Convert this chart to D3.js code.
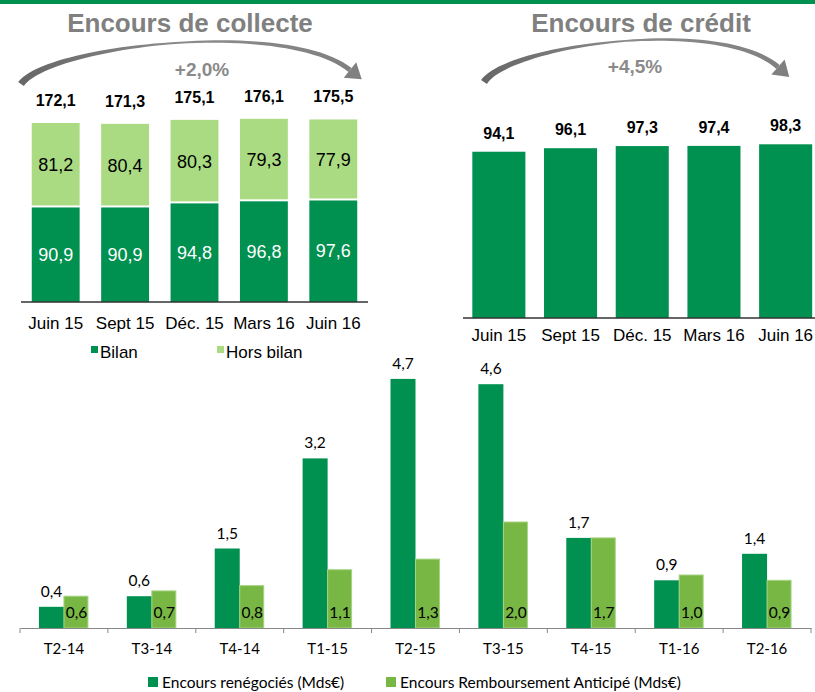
<!DOCTYPE html>
<html>
<head>
<meta charset="utf-8">
<script src="https://cdn.jsdelivr.net/npm/d3@7"></script>
<style>
  body { margin: 0; background: #fff; }
</style>
</head>
<body>
<div id="container"></div>
<script>
// data
const periods = ["Juin 15", "Sept 15", "Déc. 15", "Mars 16", "Juin 16"];
const bilan = [90.9, 90.9, 94.8, 96.8, 97.6];
const horsBilan = [81.2, 80.4, 80.3, 79.3, 77.9];
const collecteTotal = [172.1, 171.3, 175.1, 176.1, 175.5];
const credit = [94.1, 96.1, 97.3, 97.4, 98.3];
const quarters = ["T2-14", "T3-14", "T4-14", "T1-15", "T2-15", "T3-15", "T4-15", "T1-16", "T2-16"];
const renegocies = [0.4, 0.6, 1.5, 3.2, 4.7, 4.6, 1.7, 0.9, 1.4];
const rembAnticipe = [0.6, 0.7, 0.8, 1.1, 1.3, 2.0, 1.7, 1.0, 0.9];

const fmt = v => d3.format(".1f")(v).replace(".", ",");

const width = 815, height = 692;
const darkGreen = "#00904f";
const lightGreen = "#aadb82";
const midGreen = "#78b744";
const arial = "'Liberation Sans', Arial, sans-serif";
const calibri = "Lato, 'Open Sans', sans-serif";

const svg = d3.select("#container")
  .append("svg")
  .attr("width", width)
  .attr("height", height)
  .style("font-family", arial);

// top banner
svg.append("rect").attr("x", 0).attr("y", 0).attr("width", width).attr("height", 4).attr("fill", darkGreen);

const defs = svg.append("defs");
const grad = defs.append("linearGradient").attr("id", "arcGrad").attr("x1", "0%").attr("x2", "100%");
grad.append("stop").attr("offset", "0%").attr("stop-color", "#666");
grad.append("stop").attr("offset", "50%").attr("stop-color", "#8c8c8c");
grad.append("stop").attr("offset", "100%").attr("stop-color", "#808080");

// tapered curved arrow (decoration)
function arrowArc(P, label, lx, ly) {
  const bez = (t, k) => (1 - t) ** 3 * P[0][k] + 3 * (1 - t) ** 2 * t * P[1][k] + 3 * (1 - t) * t * t * P[2][k] + t ** 3 * P[3][k];
  const der = (t, k) => 3 * (1 - t) ** 2 * (P[1][k] - P[0][k]) + 6 * (1 - t) * t * (P[2][k] - P[1][k]) + 3 * t * t * (P[3][k] - P[2][k]);
  const w = d3.scaleLinear().domain([0, 0.5, 1]).range([7, 1.8, 5]);
  const top = [], bot = [];
  d3.range(0, 1.0001, 0.02).forEach(t => {
    const x = bez(t, 0), y = bez(t, 1);
    const dx = der(t, 0), dy = der(t, 1), l = Math.hypot(dx, dy);
    const nx = -dy / l, ny = dx / l;
    top.push([x - nx * w(t) / 2, y - ny * w(t) / 2]);
    bot.push([x + nx * w(t) / 2, y + ny * w(t) / 2]);
  });
  svg.append("path").attr("d", d3.line()(top.concat(bot.reverse())) + "Z")
    .attr("fill", "url(#arcGrad)");
  const dx = der(1, 0), dy = der(1, 1), l = Math.hypot(dx, dy);
  const ux = dx / l, uy = dy / l;
  const [ex, ey] = P[3];
  const tip = [ex + ux * 15, ey + uy * 15];
  const b1 = [ex - uy * 10, ey + ux * 10];
  const b2 = [ex + uy * 10, ey - ux * 10];
  svg.append("polygon").attr("points", [tip, b1, b2].map(d => d.join(",")).join(" "))
    .attr("fill", "#808080");
  svg.append("text").attr("x", lx).attr("y", ly).attr("text-anchor", "middle")
    .attr("font-size", 19).attr("font-weight", "bold").attr("fill", "#8a8a8a").text(label);
}

// ---------- Encours de collecte ----------
svg.append("text").attr("x", 190).attr("y", 32).attr("text-anchor", "middle")
  .attr("font-size", 26).attr("font-weight", "bold").attr("fill", "#808080").text("Encours de collecte");
arrowArc([[21, 84], [48, 46], [285, 18], [350, 70]], "+2,0%", 202, 76);

const x1 = d3.scaleBand().domain(periods).range([21, 368]).paddingInner(0.31).paddingOuter(0.155);
const y1 = d3.scaleLinear().domain([0, 172.1]).range([302, 123]);

const g1 = svg.append("g");
periods.forEach((p, i) => {
  g1.append("rect").attr("x", x1(p)).attr("width", x1.bandwidth())
    .attr("y", y1(bilan[i])).attr("height", y1(0) - y1(bilan[i])).attr("fill", darkGreen);
  g1.append("rect").attr("x", x1(p)).attr("width", x1.bandwidth())
    .attr("y", y1(bilan[i] + horsBilan[i])).attr("height", y1(0) - y1(horsBilan[i]) - 2)
    .attr("fill", lightGreen);
  const cx = x1(p) + x1.bandwidth() / 2;
  g1.append("text").attr("x", cx).attr("y", (y1(0) + y1(bilan[i])) / 2 + 6)
    .attr("text-anchor", "middle").attr("font-size", 18).attr("fill", "#fff").text(fmt(bilan[i]));
  g1.append("text").attr("x", cx).attr("y", (y1(bilan[i]) + y1(bilan[i] + horsBilan[i])) / 2 + 6)
    .attr("text-anchor", "middle").attr("font-size", 18).attr("fill", "#000").text(fmt(horsBilan[i]));
  g1.append("text").attr("x", cx).attr("y", y1(bilan[i] + horsBilan[i]) - 17)
    .attr("text-anchor", "middle").attr("font-size", 16).attr("font-weight", "bold").attr("fill", "#000")
    .text(fmt(collecteTotal[i]));
});
g1.append("g").attr("transform", "translate(0,302)")
  .call(d3.axisBottom(x1).tickSize(0).tickPadding(15))
  .call(g => g.select(".domain").attr("stroke", "#333").attr("stroke-width", 1.5).attr("d", "M21,0H368"))
  .call(g => g.selectAll("text").attr("font-size", 17).attr("font-family", arial).attr("fill", "#000"));

// legend
[["Bilan", darkGreen, 91], ["Hors bilan", lightGreen, 217]].forEach(([name, color, lx]) => {
  svg.append("rect").attr("x", lx).attr("y", 346).attr("width", 7).attr("height", 7).attr("fill", color);
  svg.append("text").attr("x", lx + 9).attr("y", 358).attr("font-size", 17).attr("fill", "#000").text(name);
});

// ---------- Encours de crédit ----------
svg.append("text").attr("x", 641).attr("y", 32).attr("text-anchor", "middle")
  .attr("font-size", 26).attr("font-weight", "bold").attr("fill", "#808080").text("Encours de crédit");
arrowArc([[484, 82], [508, 45], [720, 16], [778, 67]], "+4,5%", 635, 73);

const x2 = d3.scaleBand().domain(periods).range([463, 821.5]).paddingInner(0.26).paddingOuter(0.13);
const y2 = d3.scaleLinear().domain([0, 100]).range([318, 141.3]);

const g2 = svg.append("g");
periods.forEach((p, i) => {
  g2.append("rect").attr("x", x2(p)).attr("width", x2.bandwidth())
    .attr("y", y2(credit[i])).attr("height", y2(0) - y2(credit[i])).attr("fill", darkGreen);
  g2.append("text").attr("x", x2(p) + x2.bandwidth() / 2).attr("y", y2(credit[i]) - 13)
    .attr("text-anchor", "middle").attr("font-size", 16).attr("font-weight", "bold").attr("fill", "#000")
    .text(fmt(credit[i]));
});
g2.append("g").attr("transform", "translate(0,318)")
  .call(d3.axisBottom(x2).tickSize(0).tickPadding(11))
  .call(g => g.select(".domain").attr("stroke", "#333").attr("stroke-width", 1.5).attr("d", "M463,0H815"))
  .call(g => g.selectAll("text").attr("font-size", 17).attr("font-family", arial).attr("fill", "#000"));

// ---------- bottom clustered chart ----------
const x3 = d3.scaleBand().domain(quarters).range([20, 811]);
const sub = d3.scaleBand().domain([0, 1]).range([0, 50]);
const y3 = d3.scaleLinear().domain([0, 5]).range([628, 363]);

const g3 = svg.append("g").style("font-family", calibri);
quarters.forEach((q, i) => {
  const gx = x3(q) + x3.bandwidth() / 2 - 25;
  g3.append("rect").attr("x", gx + sub(0)).attr("width", sub.bandwidth())
    .attr("y", y3(renegocies[i])).attr("height", y3(0) - y3(renegocies[i])).attr("fill", darkGreen);
  g3.append("rect").attr("x", gx + sub(1)).attr("width", sub.bandwidth() - 1)
    .attr("y", y3(rembAnticipe[i])).attr("height", y3(0) - y3(rembAnticipe[i]))
    .attr("fill", midGreen).attr("stroke", "#a6d483").attr("stroke-width", 1);
  g3.append("text").attr("x", gx + sub(0) + sub.bandwidth() / 2).attr("y", y3(renegocies[i]) - 10)
    .attr("text-anchor", "middle").attr("font-size", 15.5).attr("fill", "#000").text(fmt(renegocies[i]));
  g3.append("text").attr("x", gx + sub(1) + sub.bandwidth() / 2).attr("y", 618)
    .attr("text-anchor", "middle").attr("font-size", 15.5).attr("fill", "#000").text(fmt(rembAnticipe[i]));
});
g3.append("g").attr("transform", "translate(0,628)")
  .call(d3.axisBottom(x3).tickSize(0).tickPadding(15))
  .call(g => g.select(".domain").attr("stroke", "#888").attr("stroke-width", 1))
  .call(g => g.selectAll("text").attr("font-size", 15).attr("font-family", calibri).attr("fill", "#000"));
// category boundary ticks
g3.selectAll(".bound").data(quarters.concat(["end"])).join("line")
  .attr("x1", (d, i) => i < quarters.length ? x3(d) : x3.range()[1])
  .attr("x2", (d, i) => i < quarters.length ? x3(d) : x3.range()[1])
  .attr("y1", 628).attr("y2", 633).attr("stroke", "#888");

[["Encours renégociés (Mds€)", darkGreen, 148], ["Encours Remboursement Anticipé (Mds€)", midGreen, 386]].forEach(([name, color, lx]) => {
  g3.append("rect").attr("x", lx).attr("y", 677).attr("width", 10).attr("height", 10).attr("fill", color);
  g3.append("text").attr("x", lx + 14).attr("y", 688).attr("font-size", 15.5).attr("fill", "#000").text(name);
});
</script>
</body>
</html>
